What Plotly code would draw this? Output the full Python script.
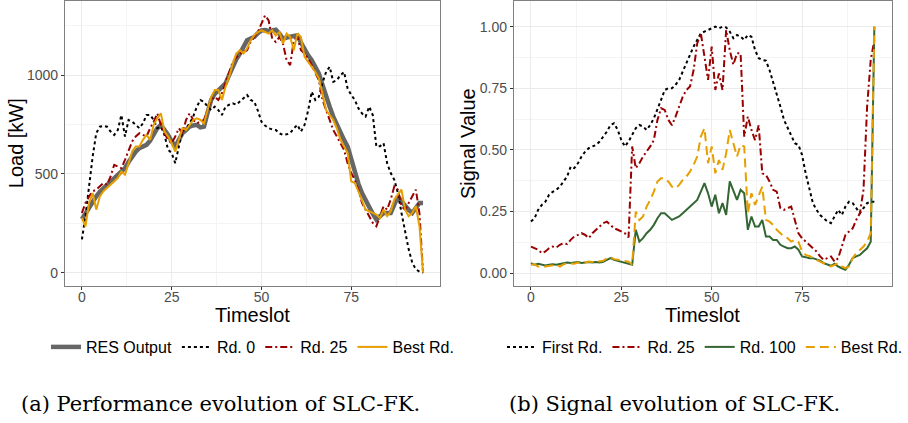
import plotly.graph_objects as go

timeslots = list(range(96))

# ---- Panel (a): load [kW] ----
res_output = [270, 300, 336, 365, 386, 410, 428, 445, 462, 478,
              496, 512, 529, 560, 588, 612, 630, 638, 647, 668,
              697, 731, 748, 725, 697, 665, 638, 672, 706, 722,
              739, 745, 748, 735, 739, 810, 874, 905, 924, 940,
              958, 1000, 1042, 1080, 1109, 1140, 1176, 1185, 1193, 1212,
              1226, 1228, 1223, 1226, 1230, 1210, 1184, 1190, 1193, 1198,
              1201, 1165, 1126, 1100, 1075, 1040, 1008, 950, 890, 840,
              790, 748, 706, 672, 638, 570, 504, 450, 403, 365,
              328, 298, 269, 285, 302, 302, 302, 345, 386, 360,
              336, 318, 302, 328, 353, 353]
rd0 = [168, 286, 437, 588, 706, 739, 743, 739, 714, 697,
       722, 798, 689, 773, 764, 748, 731, 756, 798, 798,
       773, 731, 739, 697, 622, 605, 554, 638, 714, 731,
       756, 790, 840, 874, 865, 840, 823, 840, 823, 798,
       840, 850, 857, 850, 865, 880, 899, 874, 865, 820,
       764, 745, 731, 725, 722, 705, 697, 700, 706, 730,
       748, 714, 748, 820, 916, 874, 890, 960, 1016, 1042,
       966, 974, 1000, 1016, 932, 900, 874, 832, 806, 790,
       840, 798, 638, 640, 655, 554, 504, 470, 403, 302,
       202, 118, 50, 17, 5, 0]
rd25_load = [302, 353, 386, 412, 420, 437, 454, 445, 487, 546,
             538, 529, 571, 622, 664, 689, 706, 697, 689, 731,
             764, 806, 748, 706, 672, 655, 689, 731, 706, 773,
             806, 773, 756, 764, 773, 823, 874, 890, 874, 907,
             960, 1010, 1067, 1090, 1109, 1117, 1126, 1168, 1193, 1218,
             1260, 1302, 1277, 1184, 1168, 1193, 1159, 1075, 1050, 1176,
             1193, 1126, 1109, 1084, 1050, 1008, 974, 874, 823, 773,
             722, 689, 655, 622, 554, 504, 470, 420, 353, 319,
             286, 252, 235, 286, 336, 319, 370, 437, 420, 336,
             319, 353, 386, 420, 300, 0]
best_load = [277, 235, 353, 403, 319, 386, 412, 428, 445, 462,
             479, 512, 496, 554, 613, 638, 638, 672, 697, 672,
             748, 781, 806, 714, 689, 655, 613, 672, 731, 722,
             748, 773, 781, 773, 756, 823, 890, 924, 924, 874,
             941, 991, 1058, 1109, 1126, 1109, 1134, 1176, 1201, 1218,
             1226, 1218, 1210, 1226, 1201, 1218, 1159, 1210, 1193, 1126,
             1210, 1193, 1092, 1067, 1042, 1016, 983, 907, 823, 798,
             773, 731, 672, 638, 605, 462, 454, 412, 370, 319,
             311, 302, 294, 277, 319, 286, 311, 370, 395, 420,
             319, 286, 302, 336, 235, 0]

# ---- Panel (b): signal value ----
first_sig = [0.21, 0.223, 0.257, 0.277, 0.29, 0.318, 0.33, 0.338, 0.351, 0.372,
             0.392, 0.432, 0.426, 0.446, 0.473, 0.493, 0.507, 0.514, 0.52, 0.534,
             0.554, 0.574, 0.601, 0.608, 0.581, 0.54, 0.514, 0.534, 0.561, 0.588,
             0.601, 0.595, 0.581, 0.601, 0.628, 0.662, 0.703, 0.743, 0.75, 0.75,
             0.764, 0.784, 0.818, 0.851, 0.885, 0.919, 0.946, 0.973, 0.98, 0.986,
             0.993, 1.0, 0.993, 1.0, 0.997, 0.98, 0.953, 0.966, 0.959, 0.946,
             0.966, 0.959, 0.905, 0.872, 0.865, 0.862, 0.824, 0.777, 0.73, 0.676,
             0.622, 0.588, 0.561, 0.527, 0.52, 0.48, 0.405, 0.338, 0.284, 0.257,
             0.236, 0.223, 0.21, 0.203, 0.23, 0.257, 0.236, 0.27, 0.29, 0.284,
             0.264, 0.243, 0.264, 0.284, 0.29, 0.29]
rd25_sig = [0.108, 0.101, 0.095, 0.081, 0.088, 0.101, 0.108, 0.104, 0.115, 0.122,
            0.118, 0.135, 0.149, 0.155, 0.162, 0.155, 0.142, 0.162, 0.176, 0.189,
            0.203, 0.209, 0.196, 0.182, 0.176, 0.169, 0.162, 0.145, 0.514, 0.426,
            0.446, 0.473, 0.493, 0.514, 0.54, 0.622, 0.669, 0.662, 0.622, 0.60,
            0.635, 0.676, 0.716, 0.743, 0.757, 0.824, 0.932, 0.973, 0.872, 0.784,
            0.919, 0.743, 0.81, 0.743, 0.986, 0.905, 0.845, 0.892, 0.892, 0.554,
            0.635, 0.581, 0.54, 0.60, 0.405, 0.399, 0.372, 0.338, 0.331, 0.264,
            0.257, 0.264, 0.27, 0.216, 0.162, 0.142, 0.128, 0.115, 0.101, 0.088,
            0.068, 0.054, 0.061, 0.068, 0.047, 0.061, 0.108, 0.155, 0.169, 0.182,
            0.216, 0.243, 0.338, 0.676, 0.865, 0.946]
rd100_sig = [0.041, 0.034, 0.038, 0.034, 0.031, 0.034, 0.036, 0.034, 0.038, 0.041,
             0.043, 0.041, 0.043, 0.045, 0.041, 0.043, 0.045, 0.043, 0.045, 0.043,
             0.046, 0.054, 0.061, 0.054, 0.05, 0.047, 0.045, 0.041, 0.034, 0.176,
             0.128, 0.142, 0.162, 0.176, 0.196, 0.223, 0.243, 0.243, 0.23, 0.216,
             0.223, 0.23, 0.243, 0.257, 0.27, 0.284, 0.297, 0.331, 0.365, 0.324,
             0.27, 0.318, 0.243, 0.284, 0.236, 0.372, 0.338, 0.297, 0.338, 0.324,
             0.176, 0.23, 0.189, 0.189, 0.216, 0.149, 0.149, 0.135, 0.135, 0.115,
             0.108, 0.101, 0.101, 0.108, 0.095, 0.068, 0.065, 0.061, 0.061, 0.057,
             0.051, 0.041, 0.034, 0.03, 0.038, 0.027, 0.02, 0.014, 0.034, 0.061,
             0.068, 0.074, 0.088, 0.101, 0.128, 1.0]
best_sig = [0.034, 0.036, 0.027, 0.024, 0.027, 0.030, 0.031, 0.034, 0.027, 0.036,
            0.041, 0.041, 0.038, 0.043, 0.041, 0.043, 0.047, 0.045, 0.047, 0.047,
            0.050, 0.061, 0.065, 0.057, 0.054, 0.054, 0.050, 0.047, 0.034, 0.25,
            0.216, 0.23, 0.27, 0.297, 0.331, 0.372, 0.385, 0.385, 0.372, 0.351,
            0.345, 0.358, 0.378, 0.392, 0.412, 0.439, 0.473, 0.554, 0.588, 0.446,
            0.514, 0.405, 0.459, 0.419, 0.486, 0.581, 0.527, 0.473, 0.52, 0.514,
            0.243, 0.324, 0.277, 0.311, 0.351, 0.216, 0.209, 0.196, 0.176, 0.162,
            0.149, 0.142, 0.128, 0.135, 0.128, 0.088, 0.074, 0.070, 0.061, 0.054,
            0.047, 0.041, 0.034, 0.027, 0.034, 0.041, 0.027, 0.020, 0.027, 0.061,
            0.081, 0.095, 0.108, 0.128, 0.162, 1.0]

x_ticks = [0, 25, 50, 75]
load_ticks = [0, 500, 1000]
sig_ticks = [0.0, 0.25, 0.5, 0.75, 1.0]
sig_tick_text = ["0.00", "0.25", "0.50", "0.75", "1.00"]

W, H = 908, 423
SANS = "Liberation Sans"
SERIF = "DejaVu Serif"
GREY = "#666666"
RED = "#990000"
ORANGE = "#E69F00"
GREEN = "#336633"

fig = go.Figure()

# panel a
fig.add_trace(go.Scatter(x=timeslots, y=res_output, mode="lines", name="RES Output",
                         line=dict(color=GREY, width=4.5), xaxis="x", yaxis="y", legend="legend"))
fig.add_trace(go.Scatter(x=timeslots, y=rd0, mode="lines", name="Rd. 0",
                         line=dict(color="black", width=2, dash="dot"), xaxis="x", yaxis="y", legend="legend"))
fig.add_trace(go.Scatter(x=timeslots, y=rd25_load, mode="lines", name="Rd. 25",
                         line=dict(color=RED, width=2, dash="7px,3px,2px,3px"), xaxis="x", yaxis="y", legend="legend"))
fig.add_trace(go.Scatter(x=timeslots, y=best_load, mode="lines", name="Best Rd.",
                         line=dict(color=ORANGE, width=2), xaxis="x", yaxis="y", legend="legend"))

# panel b
fig.add_trace(go.Scatter(x=timeslots, y=first_sig, mode="lines", name="First Rd.",
                         line=dict(color="black", width=2, dash="dot"), xaxis="x2", yaxis="y2", legend="legend2"))
fig.add_trace(go.Scatter(x=timeslots, y=rd25_sig, mode="lines", name="Rd. 25",
                         line=dict(color=RED, width=2, dash="7px,3px,2px,3px"), xaxis="x2", yaxis="y2", legend="legend2"))
fig.add_trace(go.Scatter(x=timeslots, y=rd100_sig, mode="lines", name="Rd. 100",
                         line=dict(color=GREEN, width=2), xaxis="x2", yaxis="y2", legend="legend2"))
fig.add_trace(go.Scatter(x=timeslots, y=best_sig, mode="lines", name="Best Rd.",
                         line=dict(color=ORANGE, width=2, dash="9px,5px"), xaxis="x2", yaxis="y2", legend="legend2"))

y_top = 1 - 1 / H
y_bot = 1 - 285.5 / H

axis_common = dict(
    showline=True, mirror=True, linecolor="#808080", linewidth=1,
    showgrid=True, gridcolor="#ebebeb", gridwidth=1, zeroline=False,
    ticks="outside", ticklen=3, tickcolor="#333333", tickwidth=1,
    tickfont=dict(family=SANS, size=14, color="#4d4d4d"),
)
minor_x = dict(showgrid=True, gridcolor="#f4f4f4", gridwidth=0.6, dtick=12.5, tick0=0, ticks="")

fig.update_layout(
    width=W, height=H, margin=dict(l=0, r=0, t=0, b=0),
    paper_bgcolor="white", plot_bgcolor="white",
    font=dict(family=SANS),
    xaxis=dict(domain=[66 / W, 448 / W], range=[-4.75, 99.75], anchor="y",
               tickvals=x_ticks, minor=minor_x, ticklabelstandoff=-4, **axis_common),
    yaxis=dict(domain=[y_bot, y_top], range=[-65, 1375], anchor="x",
               tickvals=load_ticks,
               minor=dict(showgrid=True, gridcolor="#f4f4f4", gridwidth=0.6, dtick=250, tick0=0, ticks=""),
               **axis_common),
    xaxis2=dict(domain=[523 / W, 907.5 / W], range=[-4.75, 99.75], anchor="y2",
                tickvals=x_ticks, minor=minor_x, ticklabelstandoff=-4, **axis_common),
    yaxis2=dict(domain=[y_bot, y_top], range=[-0.05, 1.104], anchor="x2",
                tickvals=sig_ticks, ticktext=sig_tick_text,
                minor=dict(showgrid=True, gridcolor="#f4f4f4", gridwidth=0.6, dtick=0.125, tick0=0, ticks=""),
                **axis_common),
    legend=dict(orientation="h", x=257 / W, xanchor="center", y=1 - 347 / H, yanchor="middle",
                font=dict(family=SANS, size=16, color="black"), itemwidth=30,
                bgcolor="rgba(0,0,0,0)", traceorder="normal"),
    legend2=dict(orientation="h", x=718 / W, xanchor="center", y=1 - 347 / H, yanchor="middle",
                 font=dict(family=SANS, size=16, color="black"), itemwidth=30,
                 bgcolor="rgba(0,0,0,0)", traceorder="normal"),
    showlegend=True,
)

annotations = [
    dict(text="Load [kW]", x=16 / W, y=1 - 143.5 / H, textangle=-90,
         font=dict(family=SANS, size=20, color="black")),
    dict(text="Signal Value", x=476 / W, y=1 - 143.5 / H, textangle=-90,
         font=dict(family=SANS, size=20, color="black")),
    dict(text="Timeslot", x=257 / W, y=1 - 315 / H,
         font=dict(family=SANS, size=20, color="black")),
    dict(text="Timeslot", x=715.5 / W, y=1 - 315 / H,
         font=dict(family=SANS, size=20, color="black")),
    dict(text="(a) Performance evolution of SLC-FK.", x=224 / W, y=1 - 404 / H,
         font=dict(family=SERIF, size=21, color="black")),
    dict(text="(b) Signal evolution of SLC-FK.", x=687 / W, y=1 - 404 / H,
         font=dict(family=SERIF, size=21, color="black")),
]
for a in annotations:
    a.update(xref="paper", yref="paper", showarrow=False, xanchor="center", yanchor="middle")
fig.update_layout(annotations=annotations)

fig.write_html("out.html")
